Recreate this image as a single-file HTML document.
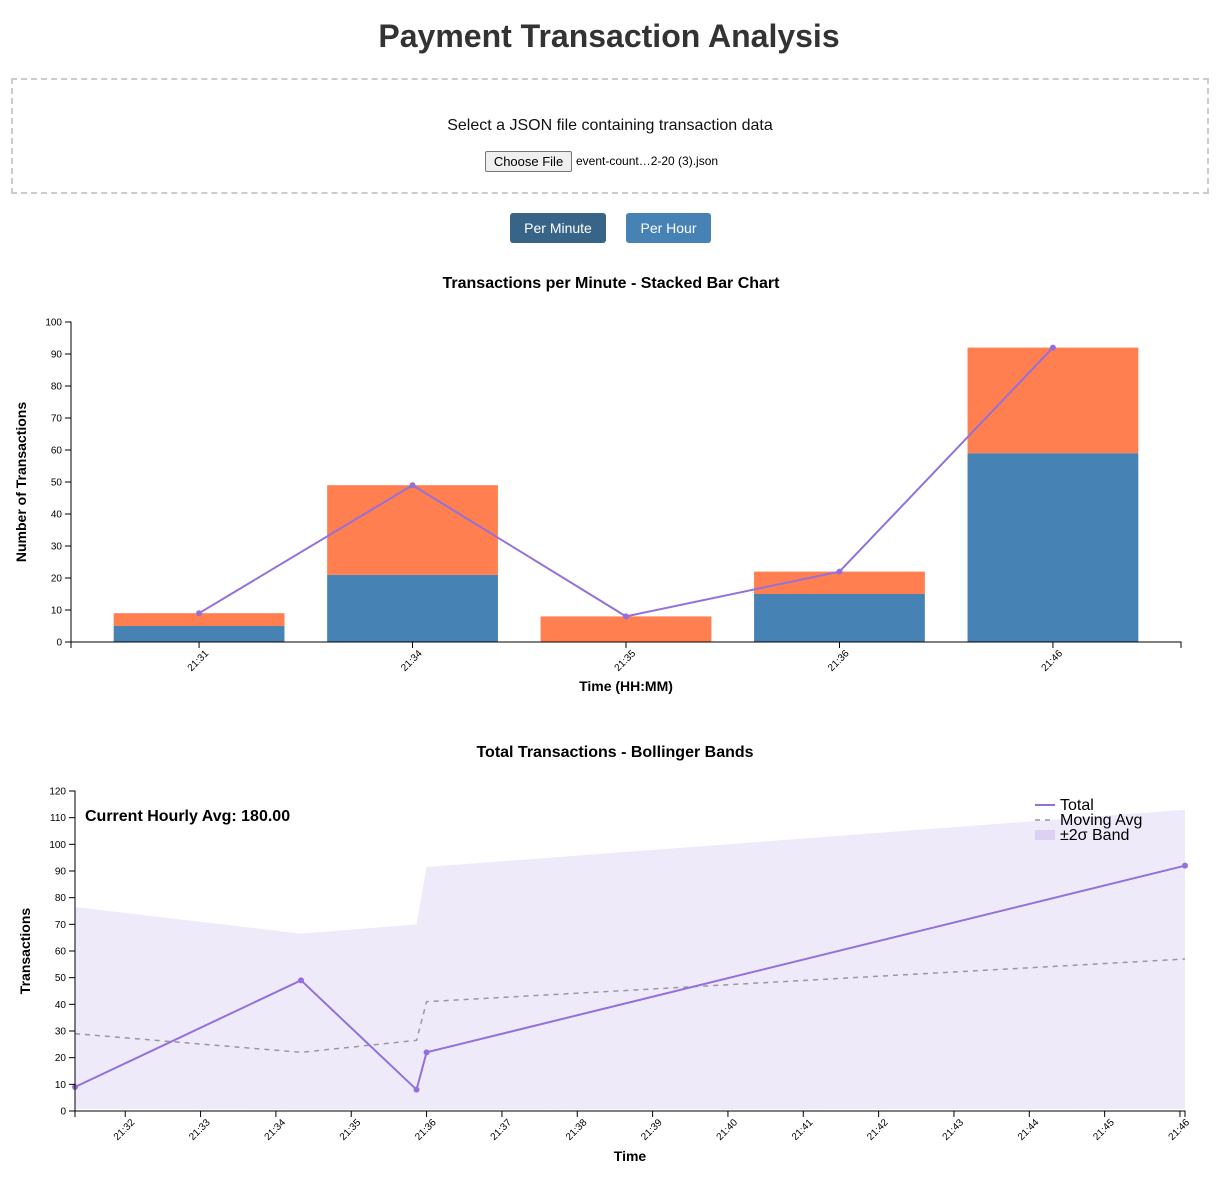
<!DOCTYPE html>
<html><head><meta charset="utf-8">
<style>
html,body{margin:0;padding:0;background:#fff;width:1218px;height:1187px;overflow:hidden;font-family:"Liberation Sans",Arial,sans-serif;}
.abs{position:absolute;}
h1{position:absolute;left:0;width:1218px;top:18px;margin:0;text-align:center;font-size:32px;font-weight:bold;color:#333;}
#drop{position:absolute;left:11px;top:78px;width:1194px;height:112px;border:2px dashed #ccc;box-sizing:content-box;}
.btn{position:absolute;top:213px;height:30px;border-radius:3px;color:#fff;font-size:14px;line-height:30px;text-align:center;}
svg text{font-family:"Liberation Sans",Arial,sans-serif;}
</style></head><body>
<h1>Payment Transaction Analysis</h1>
<div id="drop">
  <div class="abs" style="left:0;width:1194px;top:37px;text-align:center;font-size:16px;color:#111">Select a JSON file containing transaction data</div>
  <div class="abs" style="left:472px;top:71px;width:85px;height:19px;border:1px solid #767676;border-radius:2px;background:#efefef;font-size:13px;line-height:19px;text-align:center;color:#000">Choose File</div>
  <div class="abs" style="left:563px;top:74px;font-size:12px;color:#000">event-count…2-20 (3).json</div>
</div>
<div class="btn" style="left:510px;width:96px;background:#386488">Per Minute</div>
<div class="btn" style="left:626px;width:85px;background:#4682b4">Per Hour</div>

<svg id="c1" class="abs" style="left:0;top:260px" width="1218" height="450"></svg>
<svg id="c2" class="abs" style="left:0;top:730px" width="1218" height="457"></svg>

<script>
// ---- Chart 1 data ----
const barCategories = ["21:31","21:34","21:35","21:36","21:46"];
const blueValues = [5,21,0,15,59];
const orangeValues = [4,28,8,7,33];
const totalValues = [9,49,8,22,92];
const yTicks1 = [0,10,20,30,40,50,60,70,80,90,100];

// ---- Chart 2 data (seconds after 21:31:00) ----
const timeSecs = [20,200,292,300,904];
const totals2 = [9,49,8,22,92];
const movingAvg = [29,22,26.5,41,57];
const bandUpper = [76.5,66.5,70,91.5,113];
const bandLower = [0.8,0.5,0.5,0.5,0.8];
const xTickLabels2 = ["21:32","21:33","21:34","21:35","21:36","21:37","21:38","21:39","21:40","21:41","21:42","21:43","21:44","21:45","21:46"];
const yTicks2 = [0,10,20,30,40,50,60,70,80,90,100,110,120];

const NS="http://www.w3.org/2000/svg";
function mk(p,tag,attrs,txt){const e=document.createElementNS(NS,tag);for(const k in attrs)e.setAttribute(k,attrs[k]);if(txt!==undefined)e.textContent=txt;p.appendChild(e);return e;}

// ===== Chart 1 =====
(function(){
  const s=document.getElementById('c1');
  const L=71,R=1181,T=62,B=382;
  const y=v=>B-(v/100)*(B-T);
  const n=barCategories.length, pad=0.2, step=(R-L)/(n+pad), bw=step*(1-pad);
  const bx=i=>L+step*pad+i*step;
  const cx=i=>bx(i)+bw/2;
  let t=mk(s,'text',{x:611,y:28,'text-anchor':'middle','font-size':16,'font-weight':'bold',fill:'#000'},'Transactions per Minute - Stacked Bar Chart');
  
  
  for(let i=0;i<n;i++){
    let r=mk(s,'rect',{x:bx(i),y:y(blueValues[i]),width:bw,height:B-y(blueValues[i]),fill:'#4682b4'});
    
    
    let o=mk(s,'rect',{x:bx(i),y:y(blueValues[i]+orangeValues[i]),width:bw,height:y(blueValues[i])-y(blueValues[i]+orangeValues[i]),fill:'#ff7f50'});
    
    
  }
  let pts=totalValues.map((v,i)=>cx(i)+','+y(v)).join(' ');
  let pl=mk(s,'polyline',{points:pts,fill:'none',stroke:'#9370db','stroke-width':2});
  
  
  totalValues.forEach((v,i)=>{
    let c=mk(s,'circle',{cx:cx(i),cy:y(v),r:3,fill:'#9370db'});
    
    
  });
  let ya=mk(s,'g',{});
  
  
  mk(ya,'path',{d:`M${L-6},${T}H${L}V${B}H${L-6}`,fill:'none',stroke:'#000'});
  yTicks1.forEach(v=>{mk(ya,'line',{x1:L-6,x2:L,y1:y(v),y2:y(v),stroke:'#000'});mk(ya,'text',{x:L-9,y:y(v)+3.5,'text-anchor':'end','font-size':10},v);});
  let xa=mk(s,'g',{});
  
  
  mk(xa,'path',{d:`M${L},${B+6}V${B}H${R}V${B+6}`,fill:'none',stroke:'#000'});
  barCategories.forEach((c,i)=>{mk(xa,'line',{x1:cx(i),x2:cx(i),y1:B,y2:B+6,stroke:'#000'});mk(xa,'text',{transform:`translate(${cx(i)+10},${B+12}) rotate(-45)`,'text-anchor':'end','font-size':10},c);});
  let xt=mk(s,'text',{x:626,y:431,'text-anchor':'middle','font-size':14,'font-weight':'bold'},'Time (HH:MM)');
  
  
  let yt=mk(s,'text',{transform:'translate(26,222) rotate(-90)','text-anchor':'middle','font-size':14,'font-weight':'bold'},'Number of Transactions');
  
  
})();

// ===== Chart 2 =====
(function(){
  const s=document.getElementById('c2');
  const L=75,R=1185,T=61,B=381;
  const t0=timeSecs[0], t1=timeSecs[timeSecs.length-1];
  const x=sec=>L+(sec-t0)/(t1-t0)*(R-L);
  const y=v=>B-(v/120)*(B-T);
  let t=mk(s,'text',{x:615,y:27,'text-anchor':'middle','font-size':16,'font-weight':'bold'},'Total Transactions - Bollinger Bands');
  
  
  let d='M'+timeSecs.map((sec,i)=>x(sec)+','+y(bandUpper[i])).join('L');
  for(let i=timeSecs.length-1;i>=0;i--) d+='L'+x(timeSecs[i])+','+y(bandLower[i]);
  let band=mk(s,'path',{d:d+'Z',fill:'#9370db','fill-opacity':0.15});
  
  
  let ma=mk(s,'polyline',{points:timeSecs.map((sec,i)=>x(sec)+','+y(movingAvg[i])).join(' '),fill:'none',stroke:'#999','stroke-width':1.5,'stroke-dasharray':'5,5'});
  
  
  let tl=mk(s,'polyline',{points:timeSecs.map((sec,i)=>x(sec)+','+y(totals2[i])).join(' '),fill:'none',stroke:'#9370db','stroke-width':2});
  
  
  timeSecs.forEach((sec,i)=>{
    let c=mk(s,'circle',{cx:x(sec),cy:y(totals2[i]),r:3,fill:'#9370db'});
    
    
  });
  let ya=mk(s,'g',{});
  
  
  mk(ya,'path',{d:`M${L-6},${T}H${L}V${B}H${L-6}`,fill:'none',stroke:'#000'});
  yTicks2.forEach(v=>{mk(ya,'line',{x1:L-6,x2:L,y1:y(v),y2:y(v),stroke:'#000'});mk(ya,'text',{x:L-9,y:y(v)+3.5,'text-anchor':'end','font-size':10},v);});
  let xa=mk(s,'g',{});
  
  
  mk(xa,'path',{d:`M${L},${B+6}V${B}H${R}V${B+6}`,fill:'none',stroke:'#000'});
  xTickLabels2.forEach((lab,i)=>{const sec=(i+1)*60;const px=x(sec);mk(xa,'line',{x1:px,x2:px,y1:B,y2:B+6,stroke:'#000'});mk(xa,'text',{transform:`translate(${px+10},${B+12}) rotate(-45)`,'text-anchor':'end','font-size':10},lab);});
  let xt=mk(s,'text',{x:630,y:431,'text-anchor':'middle','font-size':14,'font-weight':'bold'},'Time');
  
  
  let yt=mk(s,'text',{transform:'translate(30,221) rotate(-90)','text-anchor':'middle','font-size':14,'font-weight':'bold'},'Transactions');
  
  
  let av=mk(s,'text',{x:85,y:91,'font-size':16,'font-weight':'bold'},'Current Hourly Avg: 180.00');
  
  
  let lg=mk(s,'g',{});
  
  
  mk(lg,'line',{x1:1035,x2:1055,y1:75,y2:75,stroke:'#9370db','stroke-width':2});
  mk(lg,'text',{x:1060,y:80,'font-size':16},'Total');
  mk(lg,'line',{x1:1035,x2:1055,y1:90,y2:90,stroke:'#999','stroke-width':1.5,'stroke-dasharray':'5,5'});
  mk(lg,'text',{x:1060,y:95,'font-size':16},'Moving Avg');
  mk(lg,'rect',{x:1035,y:100,width:20,height:10,fill:'#9370db','fill-opacity':0.2});
  mk(lg,'text',{x:1060,y:110,'font-size':16},'±2σ Band');
})();
</script>
</body></html>
